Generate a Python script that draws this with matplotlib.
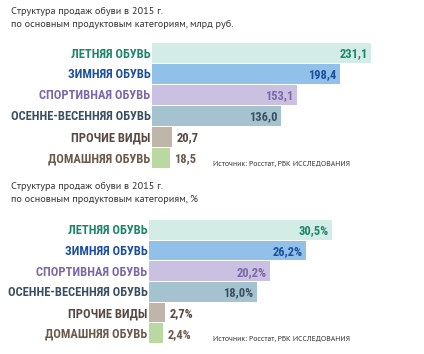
import matplotlib.pyplot as plt

# Data
categories = ['ЛЕТНЯЯ ОБУВЬ', 'ЗИМНЯЯ ОБУВЬ', 'СПОРТИВНАЯ ОБУВЬ',
              'ОСЕННЕ-ВЕСЕННЯЯ ОБУВЬ', 'ПРОЧИЕ ВИДЫ', 'ДОМАШНЯЯ ОБУВЬ']
sales_bln = [231.1, 198.4, 153.1, 136.0, 20.7, 18.5]
sales_pct = [30.5, 26.2, 20.2, 18.0, 2.7, 2.4]

title_bln = 'Структура продаж обуви в 2015 г.\nпо основным продуктовым категориям, млрд руб.'
title_pct = 'Структура продаж обуви в 2015 г.\nпо основным продуктовым категориям, %'
source = 'Источник: Росстат, РБК ИССЛЕДОВАНИЯ'

bar_colors = ['#d3ece5', '#91c0e8', '#cac0e1', '#a5c3ce', '#bfb5a9', '#bad9a2']
text_colors = ['#1b876a', '#1d4f9e', '#7a68a8', '#3a5062', '#584840', '#6b5a4b']

W, H = 424, 354
fig = plt.figure(figsize=(W / 100, H / 100), dpi=100)

label_font = dict(family=['Roboto Condensed', 'DejaVu Sans'], fontstretch='condensed',
                  fontweight='bold', fontsize=9.0)
small_font = ['PT Sans', 'Lato', 'DejaVu Sans']


def px_axes(left, top, right, bottom):
    return fig.add_axes([left / W, 1 - bottom / H, (right - left) / W, (bottom - top) / H])


def draw_panel(ax, values, xmax, inside_min, fmt):
    y = list(range(len(values)))
    ax.barh(y, values, height=0.96, color=bar_colors, edgecolor='none')
    ax.set_xlim(0, xmax)
    ax.set_ylim(len(values) - 0.5, -0.5)
    ax.axis('off')
    for i, v in enumerate(values):
        ax.text(-xmax * 0.006, i + 0.05, categories[i], ha='right', va='center',
                color=text_colors[i], **label_font)
        if v >= inside_min:
            ax.text(v - xmax * 0.013, i + 0.05, fmt(v), ha='right', va='center',
                    color=text_colors[i], **label_font)
        else:
            ax.text(v + xmax * 0.017, i + 0.05, fmt(v), ha='left', va='center',
                    color=text_colors[i], **label_font)


def comma(v, suffix=''):
    return f'{v:.1f}'.replace('.', ',') + suffix


# top panel: billions of rubles
ax1 = px_axes(152, 42.5, 152 + 280 * 0.948, 168)
draw_panel(ax1, sales_bln, 280, 100, lambda v: comma(v))

# bottom panel: percent
ax2 = px_axes(149, 219.5, 149 + 45 * 6.0, 343.5)
draw_panel(ax2, sales_pct, 45, 10, lambda v: comma(v, '%'))

# titles and sources
fig.text(11 / W, 1 - 7 / H, title_bln, ha='left', va='top', fontsize=7.4,
         family=small_font, color='#333333', linespacing=1.6)
fig.text(11 / W, 1 - 182 / H, title_pct, ha='left', va='top', fontsize=7.4,
         family=small_font, color='#333333', linespacing=1.6)
fig.text(213 / W, 1 - 164 / H, source, ha='left', va='center', fontsize=5.6,
         family=small_font, color='#333333')
fig.text(213 / W, 1 - 339 / H, source, ha='left', va='center', fontsize=5.6,
         family=small_font, color='#333333')

fig.savefig('out.png', dpi=100, facecolor='white')
